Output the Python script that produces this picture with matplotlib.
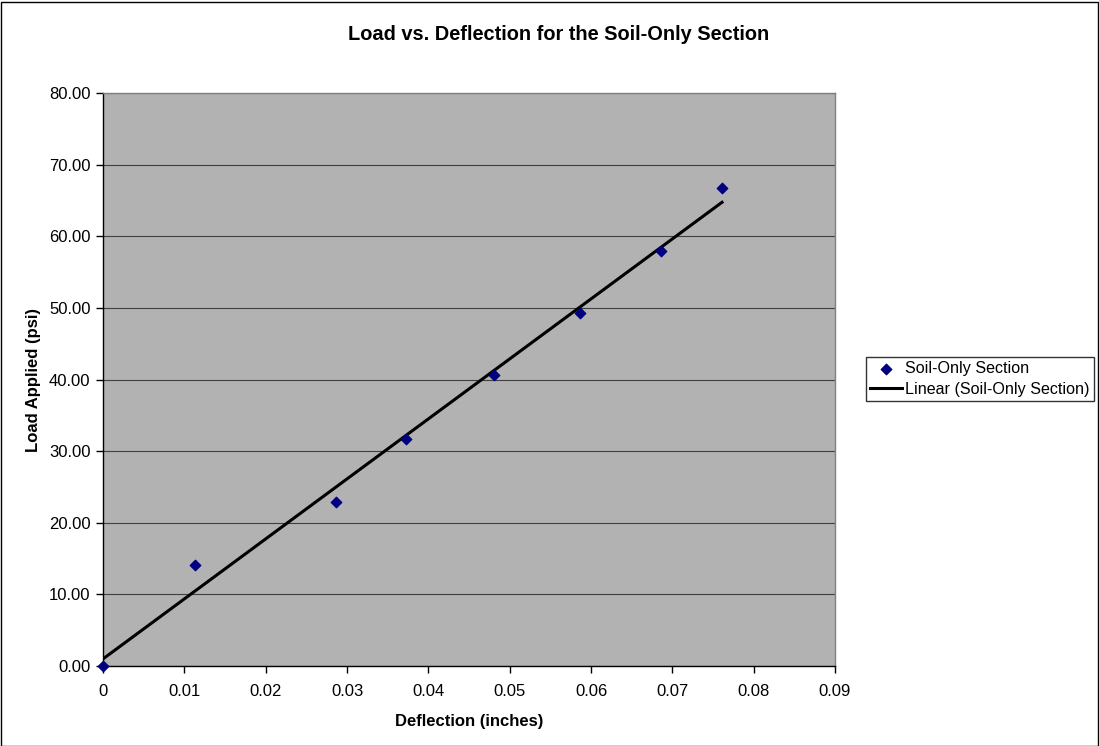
import numpy as np
import matplotlib
matplotlib.use("Agg")
import matplotlib.pyplot as plt

plt.rcParams['font.family'] = ['Liberation Sans', 'DejaVu Sans']

deflection = [0.0, 0.01128, 0.02865, 0.03726, 0.04808, 0.05865, 0.06861, 0.07611]
load = [0.0, 14.06, 22.86, 31.64, 40.56, 49.34, 57.98, 66.76]
x_ticks = [0, 0.01, 0.02, 0.03, 0.04, 0.05, 0.06, 0.07, 0.08, 0.09]
x_tick_labels = ['0', '0.01', '0.02', '0.03', '0.04', '0.05', '0.06', '0.07', '0.08', '0.09']
y_ticks = [0, 10, 20, 30, 40, 50, 60, 70, 80]

W, H = 1099, 746
fig = plt.figure(figsize=(W / 100, H / 100), dpi=100)
fig.patch.set_facecolor('white')
fig.patches.append(plt.Rectangle((0.5 / W, 0.5 / H), 1 - 2 / W, 1 - 2 / H,
                                 transform=fig.transFigure, fill=False,
                                 edgecolor='black', linewidth=1))

left, right, top, bottom = 103, 835, 93, 666
ax = fig.add_axes([left / W, (H - bottom) / H, (right - left) / W, (bottom - top) / H])
ax.set_facecolor('#b2b2b2')

slope, intercept = np.polyfit(deflection, load, 1)
xs = np.array([min(deflection), max(deflection)])
ax.grid(axis='y', color='#404040', linewidth=0.8)
ax.set_axisbelow(True)
ax.plot(xs, slope * xs + intercept, color='black', linewidth=2.2, label='Linear (Soil-Only Section)', zorder=3)
ax.scatter(deflection, load, marker='D', s=28, color='#000080', label='Soil-Only Section', zorder=4, clip_on=False)

ax.set_xlim(0, 0.09)
ax.set_ylim(0, 80)
ax.set_xticks(x_ticks)
ax.set_xticklabels(x_tick_labels)
ax.set_yticks(y_ticks)
ax.set_yticklabels([f'{v:.2f}' for v in y_ticks])
ax.tick_params(direction='out', length=5, width=1, labelsize=12, colors='black', pad=4)
ax.tick_params(axis='x', pad=8)
for side in ['top', 'right']:
    ax.spines[side].set_color('#808080')
    ax.spines[side].set_linewidth(1)
for side in ['left', 'bottom']:
    ax.spines[side].set_color('black')
    ax.spines[side].set_linewidth(1)

ax.set_xlabel('Deflection (inches)', fontsize=12, fontweight='bold', labelpad=11)
ax.set_ylabel('Load Applied (psi)', fontsize=12, fontweight='bold', labelpad=6)
fig.text(559 / W, 1 - 34 / H, 'Load vs. Deflection for the Soil-Only Section',
         ha='center', va='center', fontsize=14.4, fontweight='bold')

handles, labels = ax.get_legend_handles_labels()
order = [1, 0]
leg = fig.legend([handles[i] for i in order], [labels[i] for i in order],
                 loc='center left', bbox_to_anchor=(866 / W, 1 - 379 / H),
                 frameon=True, fancybox=False, fontsize=11.6, borderpad=0.25,
                 handlelength=2.0, handletextpad=0.2, borderaxespad=0, labelspacing=0.35)
leg.get_frame().set_edgecolor('black')
leg.get_frame().set_linewidth(1)

fig.savefig('out.png', dpi=100)
